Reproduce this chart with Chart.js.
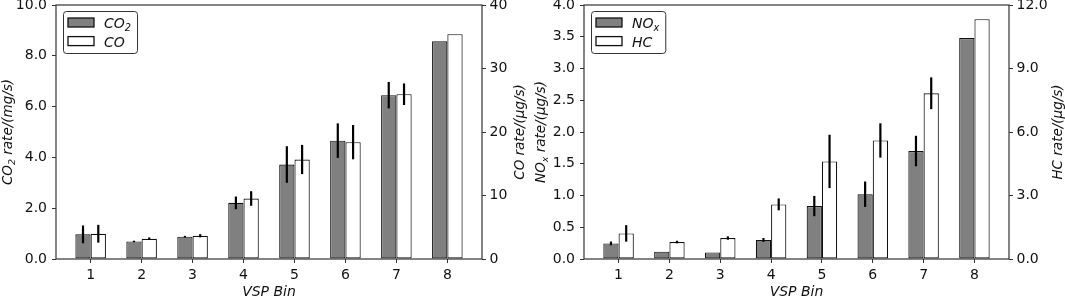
<!DOCTYPE html>
<html>
<head>
<meta charset="utf-8">
<script src="https://cdn.jsdelivr.net/npm/chart.js@4.4.1/dist/chart.umd.min.js"></script>
<style>
  html, body { margin: 0; padding: 0; background: #fff; }
  #wrap { position: relative; width: 1065px; height: 297px; overflow: hidden; }
  .panel { position: absolute; top: 0; }
  #left { left: 0; }
  #right { left: 532px; }
</style>
</head>
<body>
<div id="wrap">
  <div class="panel" id="left"><canvas id="c1" width="532" height="297"></canvas></div>
  <div class="panel" id="right"><canvas id="c2" width="533" height="297"></canvas></div>
</div>
<script>
// VSP bins
const bins = [1, 2, 3, 4, 5, 6, 7, 8];

// left panel: CO2 (mg/s, left axis) and CO (ug/s, right axis)
const co2 = [0.97, 0.69, 0.88, 2.21, 3.72, 4.66, 6.45, 8.57];
const co2Err = [0.35, 0.03, 0.03, 0.25, 0.72, 0.68, 0.52, 0];
const co = [3.98, 3.19, 3.66, 9.53, 15.67, 18.4, 25.95, 35.4];
const coErr = [1.4, 0.2, 0.25, 1.15, 2.3, 2.7, 1.7, 0];

// right panel: NOx (ug/s, left axis) and HC (ug/s, right axis)
const nox = [0.245, 0.115, 0.104, 0.30, 0.834, 1.02, 1.70, 3.48];
const noxErr = [0.03, 0, 0, 0.03, 0.16, 0.2, 0.24, 0];
const hc = [1.21, 0.80, 0.99, 2.58, 4.61, 5.60, 7.83, 11.33];
const hcErr = [0.39, 0.06, 0.08, 0.28, 1.26, 0.81, 0.75, 0];

const FONT = "'DejaVu Sans', sans-serif";
const TXT = "#111";
const SUBS = { "₂": "2", "ₓ": "x" };

// split "CO₂ ..." into normal / subscript runs so the subscript is drawn like mathtext
function runs(text) {
  const out = [];
  for (const ch of text) {
    const sub = ch in SUBS;
    const c = sub ? SUBS[ch] : ch;
    if (out.length && out[out.length - 1].sub === sub) out[out.length - 1].t += c;
    else out.push({ t: c, sub });
  }
  return out;
}

function richWidth(ctx, text, size) {
  let w = 0;
  for (const r of runs(text)) {
    ctx.font = `italic ${r.sub ? size * 0.7 : size}px ${FONT}`;
    w += ctx.measureText(r.t).width;
  }
  return w;
}

// draws with the alphabetic baseline at y, starting at x
function drawRich(ctx, text, x, y, size) {
  ctx.textAlign = "left";
  ctx.textBaseline = "alphabetic";
  for (const r of runs(text)) {
    ctx.font = `italic ${r.sub ? size * 0.7 : size}px ${FONT}`;
    ctx.fillText(r.t, x, r.sub ? y + size * 0.2 : y);
    x += ctx.measureText(r.t).width;
  }
}

// vertical error bars, no caps
const errorBars = {
  id: "errorBars",
  afterDatasetsDraw(chart) {
    const ctx = chart.ctx;
    ctx.save();
    ctx.strokeStyle = "#000";
    ctx.lineWidth = 2.2;
    chart.data.datasets.forEach((ds, i) => {
      const meta = chart.getDatasetMeta(i);
      const ys = chart.scales[meta.yAxisID];
      meta.data.forEach((bar, j) => {
        const e = ds.errors[j];
        if (!e) return;
        const v = ds.data[j].y;
        ctx.beginPath();
        ctx.moveTo(bar.x, ys.getPixelForValue(v + e));
        ctx.lineTo(bar.x, ys.getPixelForValue(v - e));
        ctx.stroke();
      });
    });
    ctx.restore();
  }
};

// box frame, axis titles and the framed legend
const decor = {
  id: "decor",
  afterDraw(chart, args, opts) {
    const { ctx, chartArea: a } = chart;
    ctx.save();
    ctx.strokeStyle = "#333";
    ctx.lineWidth = 1.2;
    ctx.strokeRect(a.left, a.top, a.right - a.left, a.bottom - a.top);

    ctx.fillStyle = TXT;
    const ts = 13.5;
    const cy = (a.top + a.bottom) / 2;
    const vtitle = (text, x) => {
      ctx.save();
      ctx.translate(x, cy);
      ctx.rotate(-Math.PI / 2);
      drawRich(ctx, text, -richWidth(ctx, text, ts) / 2, ts * 0.36, ts);
      ctx.restore();
    };
    vtitle(opts.left, a.left - opts.leftGap);
    vtitle(opts.right, a.right + opts.rightGap);
    const bw = richWidth(ctx, opts.bottom, 14);
    drawRich(ctx, opts.bottom, (a.left + a.right) / 2 - bw / 2, 295.5, 14);

    // legend
    const dsets = chart.data.datasets;
    const ls = 14;
    const tw = Math.max(...dsets.map(d => richWidth(ctx, d.label, ls)));
    const lx = a.left + 7, ly = a.top + 6;
    const w = 5 + 26 + 10 + tw + 6, h = 42;
    ctx.beginPath();
    ctx.roundRect(lx + 0.5, ly + 0.5, w, h, 3);
    ctx.fillStyle = "#fff";
    ctx.fill();
    ctx.strokeStyle = "#333";
    ctx.lineWidth = 1;
    ctx.stroke();
    dsets.forEach((d, i) => {
      const cyy = ly + 11.5 + i * 18.6;
      ctx.fillStyle = d.backgroundColor;
      ctx.fillRect(lx + 5, cyy - 4.5, 26, 9);
      ctx.strokeStyle = "#111";
      ctx.lineWidth = 1.3;
      ctx.strokeRect(lx + 5, cyy - 4.5, 26, 9);
      ctx.fillStyle = TXT;
      drawRich(ctx, d.label, lx + 5 + 26 + 10, cyy + 5.5, ls);
    });
    ctx.restore();
  }
};

const pts = arr => bins.map((b, i) => ({ x: b, y: arr[i] }));

function barSet(label, vals, errs, axis, fill) {
  return {
    label, data: pts(vals), errors: errs, yAxisID: axis,
    backgroundColor: fill, borderColor: "#111", borderWidth: 1.15,
    borderSkipped: false, categoryPercentage: 0.6, barPercentage: 1.0
  };
}

function yAxis(pos, max, step, fmt, width, pad) {
  return {
    position: pos, min: 0, max: max,
    grid: { drawOnChartArea: false, drawTicks: true, tickLength: 4, color: "#333" },
    border: { display: false },
    ticks: { stepSize: step, padding: pad, color: TXT, font: { family: FONT, size: 14 }, callback: fmt },
    afterFit: s => { s.width = width; s.paddingTop = 0; s.paddingBottom = 0; }
  };
}

function makeChart(id, sets, y, y1, titles) {
  return new Chart(document.getElementById(id), {
    type: "bar",
    data: { datasets: sets },
    options: {
      responsive: false,
      animation: false,
      layout: { padding: { top: 5, left: 0, right: 0, bottom: 0 } },
      plugins: { legend: { display: false }, tooltip: { enabled: false }, decor: titles },
      scales: {
        x: {
          type: "linear", min: 0.32, max: 8.68, offset: false,
          grid: { drawOnChartArea: false, drawTicks: true, tickLength: 4, color: "#333", offset: false },
          border: { display: false },
          ticks: { padding: 4, color: TXT, font: { family: FONT, size: 14 }, callback: v => String(v) },
          afterBuildTicks: s => { s.ticks = bins.map(v => ({ value: v })); },
          afterFit: s => { s.height = 38; s.paddingLeft = 0; s.paddingRight = 0; }
        },
        y: y,
        y1: y1
      }
    },
    plugins: [errorBars, decor]
  });
}

makeChart("c1",
  [barSet("CO₂", co2, co2Err, "y", "#808080"), barSet("CO", co, coErr, "y1", "#ffffff")],
  yAxis("left", 10, 2, v => v.toFixed(1), 56, 5),
  yAxis("right", 40, 10, v => String(v), 50, 3.5),
  { left: "CO₂ rate/(mg/s)", right: "CO rate/(μg/s)", bottom: "VSP Bin", leftGap: 49, rightGap: 37 }
);

makeChart("c2",
  [barSet("NOₓ", nox, noxErr, "y", "#808080"), barSet("HC", hc, hcErr, "y1", "#ffffff")],
  yAxis("left", 4, 0.5, v => v.toFixed(1), 52, 5),
  yAxis("right", 12, 3, v => v.toFixed(1), 56, 3.5),
  { left: "NOₓ rate/(μg/s)", right: "HC rate/(μg/s)", bottom: "VSP Bin", leftGap: 44, rightGap: 48 }
);
</script>
</body>
</html>
